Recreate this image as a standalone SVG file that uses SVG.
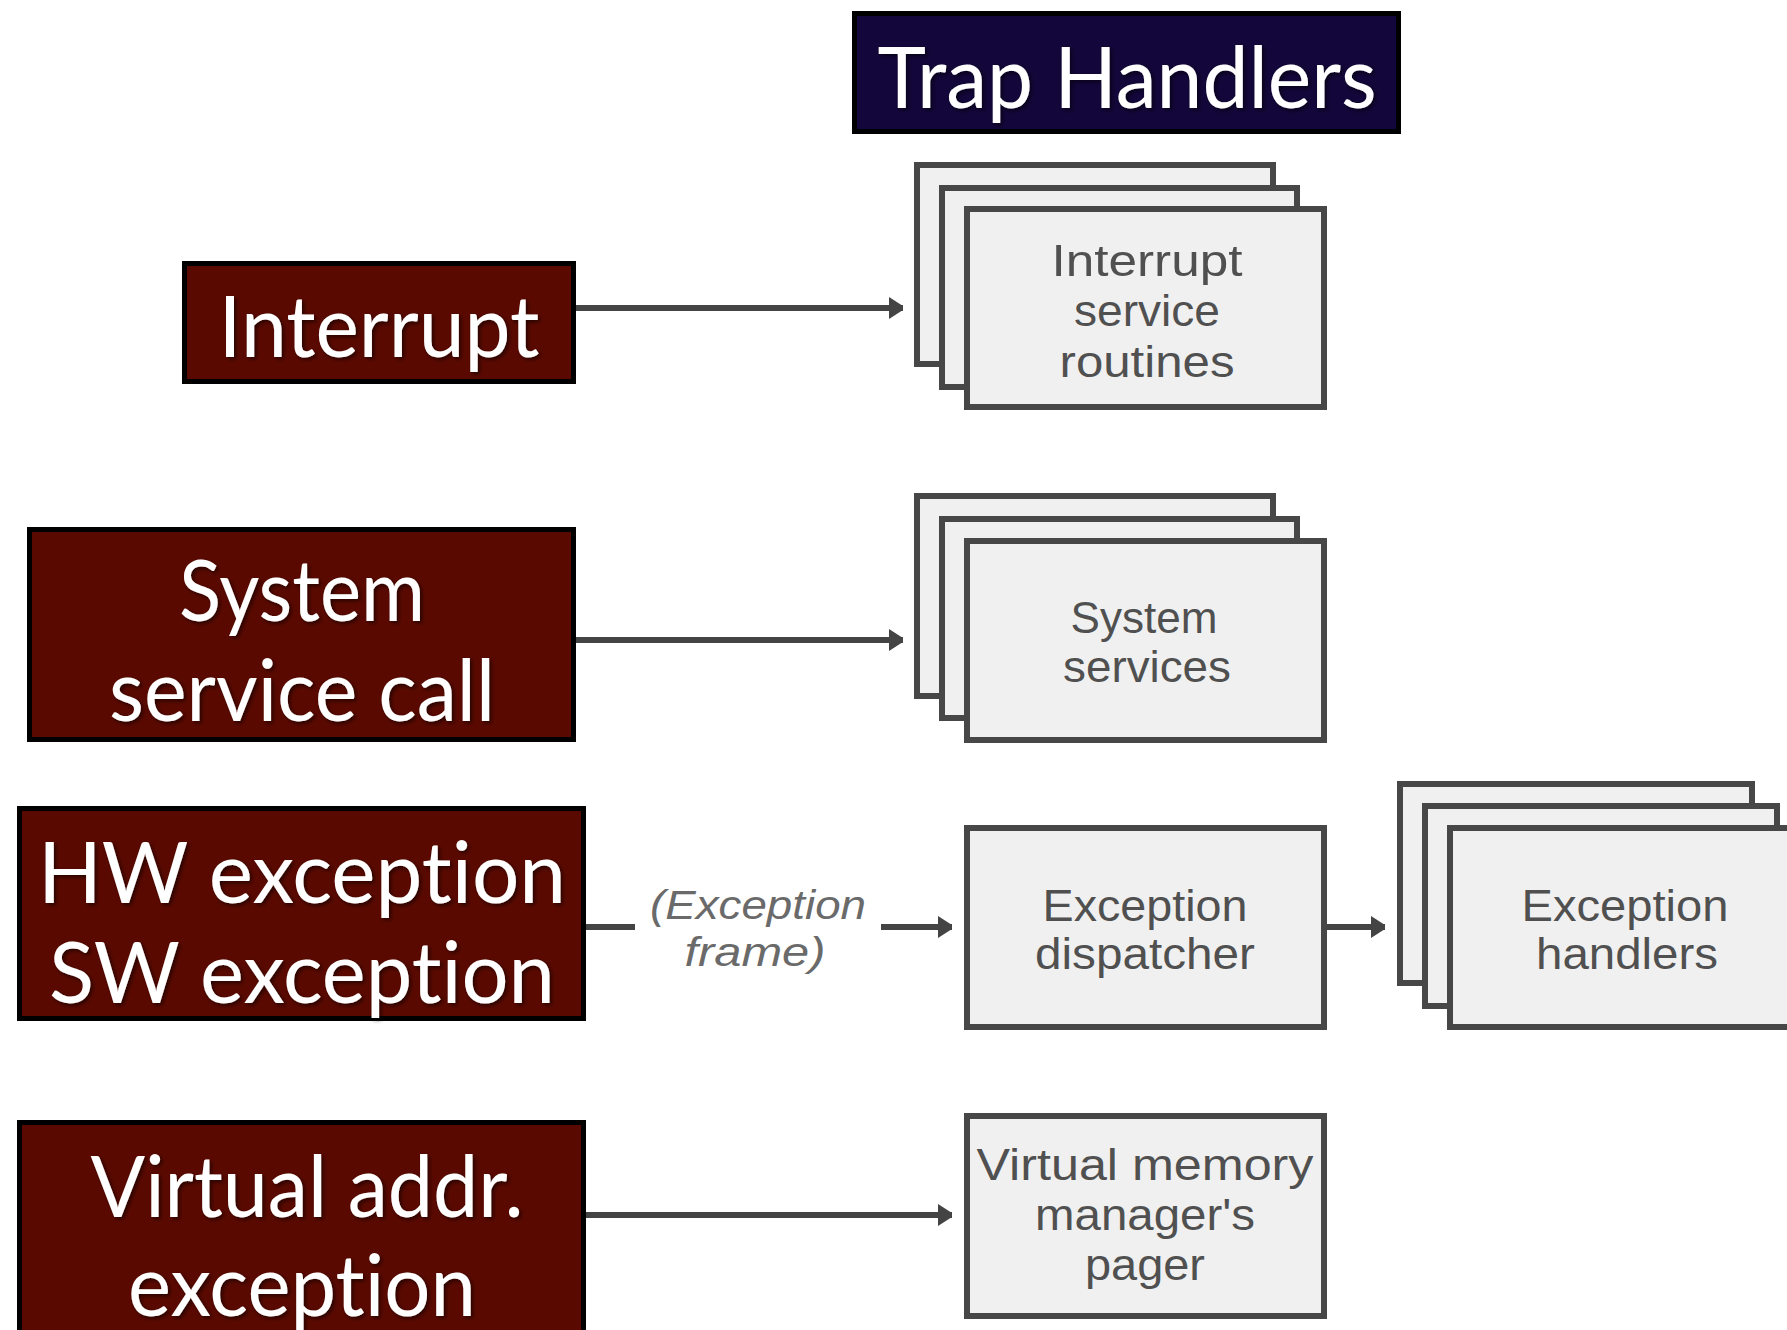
<svg xmlns="http://www.w3.org/2000/svg" width="1787" height="1330" viewBox="0 0 1787 1330">
  <defs>
    <style>
      .src { fill: #5a0900; stroke: #000; stroke-width: 5; }
      .title { fill: #13063a; stroke: #000; stroke-width: 5; }
      .big { font-family: Lato, "Open Sans", "Liberation Sans", sans-serif; font-size: 86px; fill: #fff; text-anchor: middle; font-variant-ligatures: none; }
      .card { fill: #f0f0f0; stroke: #474747; stroke-width: 6; }
      .lbl { font-family: "Liberation Sans", Arial, sans-serif; font-size: 45px; fill: #505050; text-anchor: middle; }
      .frame { font-family: "Liberation Sans", Arial, sans-serif; font-style: italic; font-size: 40px; fill: #6a6a6a; text-anchor: middle; }
      .wire { fill: none; stroke: #444; stroke-width: 6; }
    </style>
    <marker id="arrow" viewBox="0 0 14 22" refX="14" refY="11" markerWidth="14" markerHeight="22" markerUnits="userSpaceOnUse" orient="auto">
      <path d="M0,0 L14,9 L14,13 L0,22 z" fill="#444"/>
    </marker>
    <filter id="shadow" x="-10%" y="-20%" width="120%" height="140%">
      <feDropShadow dx="2" dy="2" stdDeviation="2" flood-color="#000" flood-opacity="0.6"/>
    </filter>
  </defs>

  <rect width="1787" height="1330" fill="#fff"/>

  <!-- heading -->
  <g id="trap-handlers">
    <rect class="title" x="854.5" y="13.5" width="544" height="118"/>
    <text class="big" x="1127" y="108" font-size="84" textLength="499" lengthAdjust="spacingAndGlyphs" filter="url(#shadow)">Trap Handlers</text>
  </g>

  <!-- sources -->
  <g id="interrupt">
    <rect class="src" x="184.5" y="263.5" width="389" height="118"/>
    <text class="big" x="379" y="357" textLength="321" lengthAdjust="spacingAndGlyphs" filter="url(#shadow)">Interrupt</text>
  </g>
  <g id="system-service-call">
    <rect class="src" x="29.5" y="529.5" width="544" height="210"/>
    <text class="big" x="302" y="621" textLength="246" lengthAdjust="spacingAndGlyphs" filter="url(#shadow)">System</text>
    <text class="big" x="302" y="721" textLength="386" lengthAdjust="spacingAndGlyphs" filter="url(#shadow)">service call</text>
  </g>
  <g id="hw-sw-exception">
    <rect class="src" x="19.5" y="808.5" width="564" height="210"/>
    <text class="big" x="302" y="903" textLength="528" lengthAdjust="spacingAndGlyphs" filter="url(#shadow)">HW exception</text>
    <text class="big" x="302" y="1003" textLength="506" lengthAdjust="spacingAndGlyphs" filter="url(#shadow)">SW exception</text>
  </g>
  <g id="virtual-addr-exception">
    <rect class="src" x="19.5" y="1122.5" width="564" height="230"/>
    <text class="big" x="307" y="1217" textLength="433" lengthAdjust="spacingAndGlyphs" filter="url(#shadow)">Virtual addr.</text>
    <text class="big" x="302" y="1316" textLength="348" lengthAdjust="spacingAndGlyphs" filter="url(#shadow)">exception</text>
  </g>

  <!-- handlers -->
  <g id="interrupt-service-routines">
    <rect class="card" x="917" y="165" width="356" height="199"/>
    <rect class="card" x="942" y="188" width="355" height="199"/>
    <rect class="card" x="967" y="209" width="357" height="198"/>
    <text class="lbl" x="1147" y="276" textLength="191" lengthAdjust="spacingAndGlyphs">Interrupt</text>
    <text class="lbl" x="1147" y="326" textLength="146" lengthAdjust="spacingAndGlyphs">service</text>
    <text class="lbl" x="1147" y="377" textLength="175" lengthAdjust="spacingAndGlyphs">routines</text>
  </g>
  <g id="system-services">
    <rect class="card" x="917" y="496" width="356" height="200"/>
    <rect class="card" x="942" y="519" width="355" height="199"/>
    <rect class="card" x="967" y="541" width="357" height="199"/>
    <text class="lbl" x="1144" y="633" textLength="147" lengthAdjust="spacingAndGlyphs">System</text>
    <text class="lbl" x="1147" y="682" textLength="168" lengthAdjust="spacingAndGlyphs">services</text>
  </g>
  <g id="exception-dispatcher">
    <rect class="card" x="967" y="828" width="357" height="199"/>
    <text class="lbl" x="1145" y="921" textLength="205" lengthAdjust="spacingAndGlyphs">Exception</text>
    <text class="lbl" x="1145" y="969" textLength="220" lengthAdjust="spacingAndGlyphs">dispatcher</text>
  </g>
  <g id="exception-handlers">
    <rect class="card" x="1400" y="784" width="352" height="199"/>
    <rect class="card" x="1425" y="806" width="352" height="200"/>
    <rect class="card" x="1450" y="828" width="357" height="199"/>
    <text class="lbl" x="1625" y="921" textLength="207" lengthAdjust="spacingAndGlyphs">Exception</text>
    <text class="lbl" x="1627" y="969" textLength="182" lengthAdjust="spacingAndGlyphs">handlers</text>
  </g>
  <g id="vm-pager">
    <rect class="card" x="967" y="1116" width="357" height="200"/>
    <text class="lbl" x="1145" y="1180" textLength="337" lengthAdjust="spacingAndGlyphs">Virtual memory</text>
    <text class="lbl" x="1145" y="1230" textLength="220" lengthAdjust="spacingAndGlyphs">manager's</text>
    <text class="lbl" x="1145" y="1280" textLength="120" lengthAdjust="spacingAndGlyphs">pager</text>
  </g>

  <!-- connectors -->
  <g id="connectors">
    <line class="wire" x1="576" y1="308" x2="903" y2="308" marker-end="url(#arrow)"/>
    <line class="wire" x1="576" y1="640" x2="903" y2="640" marker-end="url(#arrow)"/>
    <line class="wire" x1="586" y1="927" x2="635" y2="927"/>
    <text class="frame" x="758" y="919" textLength="216" lengthAdjust="spacingAndGlyphs">(Exception</text>
    <text class="frame" x="755" y="966" textLength="141" lengthAdjust="spacingAndGlyphs">frame)</text>
    <line class="wire" x1="881" y1="927" x2="952" y2="927" marker-end="url(#arrow)"/>
    <line class="wire" x1="1327" y1="927" x2="1385" y2="927" marker-end="url(#arrow)"/>
    <line class="wire" x1="586" y1="1215" x2="952" y2="1215" marker-end="url(#arrow)"/>
  </g>
</svg>
